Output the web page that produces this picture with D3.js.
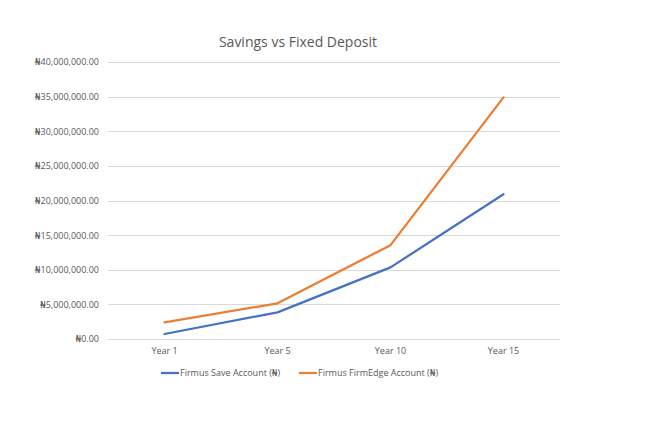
<!DOCTYPE html>
<html>
<head>
  <meta charset="utf-8">
  <title>Savings vs Fixed Deposit</title>
  <script src="https://cdn.jsdelivr.net/npm/d3@7"></script>
  <style>
    body { margin: 0; background: #fff; }
    text { font-family: "Open Sans", "DejaVu Sans", sans-serif; }
  </style>
</head>
<body>
  <div id="chart"></div>
  <script>
    const years = ["Year 1", "Year 5", "Year 10", "Year 15"]
    const saveAccount = [720000, 3850000, 10340000, 20900000]
    const firmEdgeAccount = [2410000, 5150000, 13550000, 34900000]
    const yTicks = [0, 5000000, 10000000, 15000000, 20000000, 25000000, 30000000, 35000000, 40000000]
    const seriesNames = ["Firmus Save Account (₦)", "Firmus FirmEdge Account (₦)"]

    const width = 665
    const height = 421
    const margin = { top: 62, right: 105, bottom: 82, left: 108 }

    const svg = d3.select("#chart")
      .append("svg")
      .attr("width", width)
      .attr("height", height)

    const x = d3.scaleBand()
      .domain(years)
      .range([margin.left, width - margin.right])

    const y = d3.scaleLinear()
      .domain([0, 40000000])
      .range([height - margin.bottom, margin.top])

    const fmt = d => "₦" + d3.format(",.2f")(d)

    // gridlines
    svg.append("g")
      .selectAll("line")
      .data(yTicks)
      .enter()
      .append("line")
      .attr("x1", margin.left)
      .attr("x2", width - margin.right)
      .attr("y1", d => Math.round(y(d)) + 0.5)
      .attr("y2", d => Math.round(y(d)) + 0.5)
      .style("stroke", "#d9d9d9")
      .style("stroke-width", 1)

    // y axis labels
    const yAxis = d3.axisLeft(y).tickValues(yTicks).tickFormat(fmt).tickSize(0).tickPadding(9)
    const gy = svg.append("g")
      .attr("transform", `translate(${margin.left},0)`)
      .call(yAxis)
    gy.select(".domain").remove()
    gy.selectAll("text")
      .attr("fill", "#595959")
      .style("font-size", "9px")

    // x axis labels
    const xAxis = d3.axisBottom(x).tickSize(0).tickPadding(9)
    const gx = svg.append("g")
      .attr("transform", `translate(0,${height - margin.bottom})`)
      .call(xAxis)
    gx.select(".domain").remove()
    gx.selectAll("text")
      .attr("fill", "#595959")
      .style("font-size", "9px")

    const colors = ["#4472C4", "#ED7D31"]
    const series = [saveAccount, firmEdgeAccount]

    const line = d3.line()
      .x((d, i) => x(years[i]) + x.bandwidth() / 2)
      .y(d => y(d))

    svg.append("g")
      .selectAll("path")
      .data(series)
      .enter()
      .append("path")
      .attr("d", d => line(d))
      .attr("fill", "none")
      .attr("stroke", (d, i) => colors[i])
      .attr("stroke-width", 2.25)
      .attr("stroke-linejoin", "round")
      .attr("stroke-linecap", "round")

    // title
    svg.append("text")
      .attr("x", 298)
      .attr("y", 47)
      .attr("text-anchor", "middle")
      .attr("fill", "#595959")
      .style("font-size", "14px")
      .text("Savings vs Fixed Deposit")

    // legend
    const legendX = [161, 299]
    const legend = svg.append("g")
      .selectAll("g")
      .data(seriesNames)
      .enter()
      .append("g")
      .attr("transform", (d, i) => `translate(${legendX[i]},373)`)

    legend.append("line")
      .attr("x1", 0)
      .attr("x2", 18)
      .attr("stroke", (d, i) => colors[i])
      .attr("stroke-width", 2.25)

    legend.append("text")
      .attr("x", 19)
      .attr("dy", "0.35em")
      .attr("fill", "#595959")
      .style("font-size", "9px")
      .text(d => d)
  </script>
</body>
</html>
